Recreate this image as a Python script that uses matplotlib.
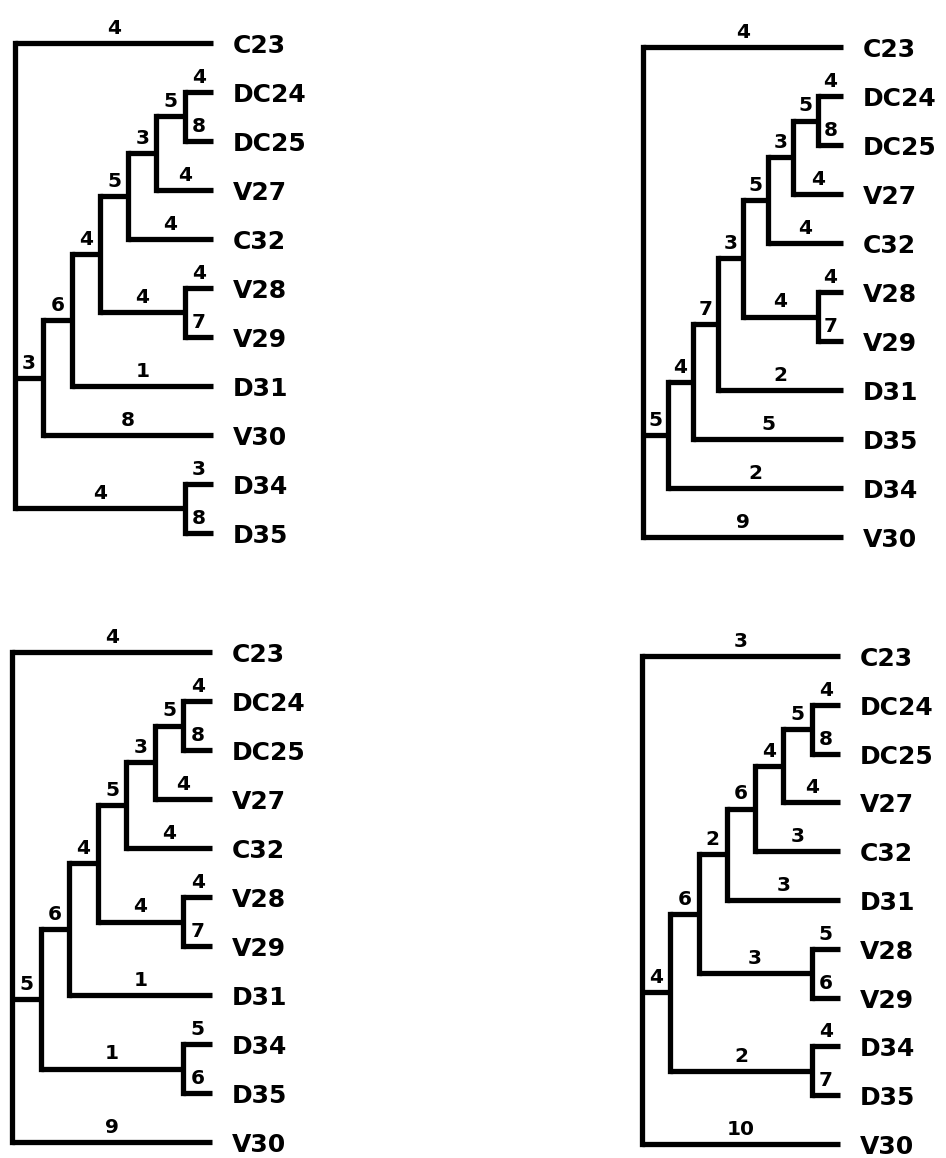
import matplotlib
matplotlib.use("Agg")
import matplotlib.pyplot as plt

# Trees in Newick form: the number after ':' is the value printed on that branch
TREE_TOP_LEFT = "(C23:4,((((((DC24:4,DC25:8):5,V27:4):3,C32:4):5,(V28:4,V29:7):4):4,D31:1):6,V30:8):3,(D34:3,D35:8):4);"
TREE_TOP_RIGHT = "(C23:4,(((((((DC24:4,DC25:8):5,V27:4):3,C32:4):5,(V28:4,V29:7):4):3,D31:2):7,D35:5):4,D34:2):5,V30:9);"
TREE_BOTTOM_LEFT = "(C23:4,((((((DC24:4,DC25:8):5,V27:4):3,C32:4):5,(V28:4,V29:7):4):4,D31:1):6,(D34:5,D35:6):1):5,V30:9);"
TREE_BOTTOM_RIGHT = "(C23:3,((((((DC24:4,DC25:8):5,V27:4):4,C32:3):6,D31:3):2,(V28:5,V29:6):3):6,(D34:4,D35:7):2):4,V30:10);"
TREES = [TREE_TOP_LEFT, TREE_TOP_RIGHT, TREE_BOTTOM_LEFT, TREE_BOTTOM_RIGHT]

W, H = 946, 1158
# panel boxes in pixels: (root x, leaf x, first leaf y, last leaf y)
BOXES = [(15, 213, 43, 533), (643, 843, 47, 537), (12, 212, 652, 1142), (642, 840, 656, 1144)]

LW = 3.8
FONT = "DejaVu Sans"


def parse_newick(s):
    s = s.strip().rstrip(';')
    pos = 0

    def node():
        nonlocal pos
        children = []
        if s[pos] == '(':
            pos += 1
            children.append(node())
            while s[pos] == ',':
                pos += 1
                children.append(node())
            pos += 1  # ')'
        start = pos
        while pos < len(s) and s[pos] not in ':,)':
            pos += 1
        name = s[start:pos]
        label = None
        if pos < len(s) and s[pos] == ':':
            pos += 1
            start = pos
            while pos < len(s) and s[pos] not in ',)':
                pos += 1
            label = s[start:pos]
        return {'name': name, 'label': label, 'children': children}

    return node()


def layout(tree):
    leaves = []

    def walk(n):
        if not n['children']:
            n['h'] = 0
            n['y'] = len(leaves)
            leaves.append(n)
        else:
            for c in n['children']:
                walk(c)
            n['h'] = 1 + max(c['h'] for c in n['children'])
            n['y'] = (n['children'][0]['y'] + n['children'][-1]['y']) / 2

    walk(tree)
    return leaves


fig = plt.figure(figsize=(W / 100, H / 100), dpi=100)
fig.patch.set_facecolor('white')

for newick, (x0, x1, y0, y1) in zip(TREES, BOXES):
    tree = parse_newick(newick)
    leaves = layout(tree)
    Htot = tree['h']
    ax = fig.add_axes([x0 / W, 1 - y1 / H, (x1 - x0) / W, (y1 - y0) / H])
    ax.set_xlim(0, 1)
    ax.set_ylim(len(leaves) - 1, 0)
    ax.axis('off')

    def X(n):
        return 1 - n['h'] / Htot

    def draw(n):
        if not n['children']:
            ax.annotate(n['name'], xy=(1, n['y']), xytext=(14.0, -7.2),
                        textcoords='offset points', ha='left', va='baseline',
                        fontsize=18, family=FONT, fontweight='bold', color='black',
                        annotation_clip=False)
            return
        xn = X(n)
        ax.plot([xn, xn], [n['children'][0]['y'], n['children'][-1]['y']],
                color='black', lw=LW, solid_capstyle='projecting', clip_on=False)
        for c in n['children']:
            xc = X(c)
            ax.plot([xn, xc], [c['y'], c['y']], color='black', lw=LW,
                    solid_capstyle='butt', clip_on=False)
            ax.annotate(c['label'], xy=((xn + xc) / 2, c['y']), xytext=(0, 6.5),
                        textcoords='offset points', ha='center', va='baseline',
                        fontsize=14.5, family=FONT, fontweight='bold', color='black',
                        annotation_clip=False)
            draw(c)

    draw(tree)

fig.savefig('out.png', dpi=100, facecolor='white')
